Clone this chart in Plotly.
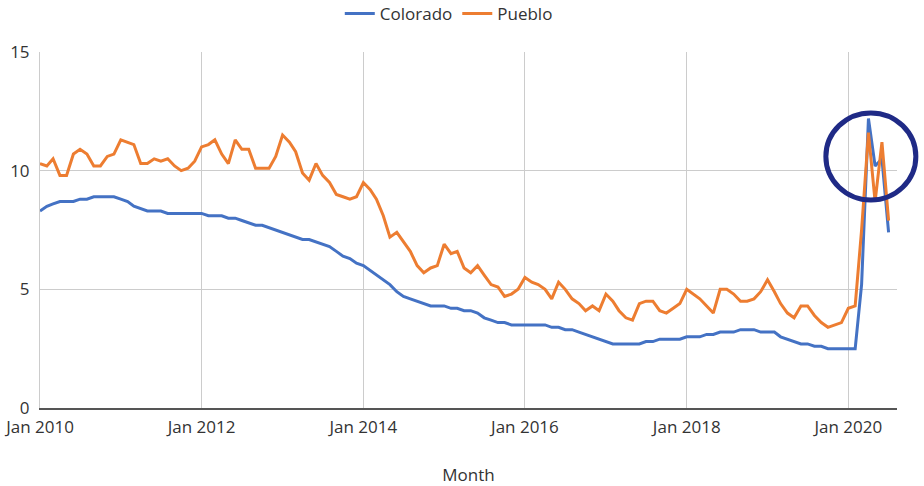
import plotly.graph_objects as go
import pandas as pd

months = pd.date_range("2010-01-01", "2020-07-01", freq="MS")

colorado = [
    8.3, 8.5, 8.6, 8.7, 8.7, 8.7, 8.8, 8.8, 8.9, 8.9, 8.9, 8.9,
    8.8, 8.7, 8.5, 8.4, 8.3, 8.3, 8.3, 8.2, 8.2, 8.2, 8.2, 8.2,
    8.2, 8.1, 8.1, 8.1, 8.0, 8.0, 7.9, 7.8, 7.7, 7.7, 7.6, 7.5,
    7.4, 7.3, 7.2, 7.1, 7.1, 7.0, 6.9, 6.8, 6.6, 6.4, 6.3, 6.1,
    6.0, 5.8, 5.6, 5.4, 5.2, 4.9, 4.7, 4.6, 4.5, 4.4, 4.3, 4.3,
    4.3, 4.2, 4.2, 4.1, 4.1, 4.0, 3.8, 3.7, 3.6, 3.6, 3.5, 3.5,
    3.5, 3.5, 3.5, 3.5, 3.4, 3.4, 3.3, 3.3, 3.2, 3.1, 3.0, 2.9,
    2.8, 2.7, 2.7, 2.7, 2.7, 2.7, 2.8, 2.8, 2.9, 2.9, 2.9, 2.9,
    3.0, 3.0, 3.0, 3.1, 3.1, 3.2, 3.2, 3.2, 3.3, 3.3, 3.3, 3.2,
    3.2, 3.2, 3.0, 2.9, 2.8, 2.7, 2.7, 2.6, 2.6, 2.5, 2.5, 2.5,
    2.5, 2.5, 5.2, 12.2, 10.2, 10.5, 7.4,
]

pueblo = [
    10.3, 10.2, 10.5, 9.8, 9.8, 10.7, 10.9, 10.7, 10.2, 10.2, 10.6, 10.7,
    11.3, 11.2, 11.1, 10.3, 10.3, 10.5, 10.4, 10.5, 10.2, 10.0, 10.1, 10.4,
    11.0, 11.1, 11.3, 10.7, 10.3, 11.3, 10.9, 10.9, 10.1, 10.1, 10.1, 10.6,
    11.5, 11.2, 10.8, 9.9, 9.6, 10.3, 9.8, 9.5, 9.0, 8.9, 8.8, 8.9,
    9.5, 9.2, 8.8, 8.1, 7.2, 7.4, 7.0, 6.6, 6.0, 5.7, 5.9, 6.0,
    6.9, 6.5, 6.6, 5.9, 5.7, 6.0, 5.6, 5.2, 5.1, 4.7, 4.8, 5.0,
    5.5, 5.3, 5.2, 5.0, 4.6, 5.3, 5.0, 4.6, 4.4, 4.1, 4.3, 4.1,
    4.8, 4.5, 4.1, 3.8, 3.7, 4.4, 4.5, 4.5, 4.1, 4.0, 4.2, 4.4,
    5.0, 4.8, 4.6, 4.3, 4.0, 5.0, 5.0, 4.8, 4.5, 4.5, 4.6, 4.9,
    5.4, 4.9, 4.4, 4.0, 3.8, 4.3, 4.3, 3.9, 3.6, 3.4, 3.5, 3.6,
    4.2, 4.3, 7.5, 11.6, 8.7, 11.2, 7.9,
]

y_ticks = [0, 5, 10, 15]

FONT = "Open Sans, Noto Sans, sans-serif"
TXT = "#333333"

fig = go.Figure()
fig.add_trace(go.Scatter(x=months, y=colorado, mode="lines", name="Colorado",
                         line=dict(color="#4472C4", width=3)))
fig.add_trace(go.Scatter(x=months, y=pueblo, mode="lines", name="Pueblo",
                         line=dict(color="#ED7D31", width=3)))

fig.update_layout(
    width=924, height=486,
    margin=dict(l=40, r=27, t=52, b=78, autoexpand=False),
    paper_bgcolor="white", plot_bgcolor="white",
    font=dict(family=FONT, size=17, color=TXT),
    showlegend=True,
    legend=dict(orientation="h", x=0.477, xanchor="center", y=1.107, yanchor="middle",
                font=dict(size=17, color=TXT)),
    xaxis=dict(
        type="date",
        range=["2010-01-01", "2020-08-08"],
        tick0="2010-01-01", dtick="M24", tickformat="%b %Y",
        ticklabeloverflow="allow",
        showgrid=True, gridcolor="#cccccc", gridwidth=1,
        showline=True, linecolor="#555555", linewidth=2,
        ticks="outside", ticklen=3, tickcolor="rgba(0,0,0,0)", zeroline=False,
        title=dict(text="Month", standoff=32, font=dict(size=17, color=TXT)),
    ),
    yaxis=dict(
        range=[0, 15],
        tickvals=y_ticks,
        showgrid=True, gridcolor="#cccccc", gridwidth=1,
        showline=True, linecolor="#cccccc", linewidth=1,
        zeroline=False,
        ticks="outside", ticklen=6, tickcolor="rgba(0,0,0,0)",
    ),
)

# highlight circle around the 2020 spike (paper coordinates)
fig.add_shape(type="circle", xref="paper", yref="paper",
              x0=0.917, x1=1.022, y0=0.584, y1=0.829,
              line=dict(color="#1F2A86", width=5), layer="above")

fig.write_html("out.html", config={"displayModeBar": False},
               post_script="document.body.style.margin='0px';")
